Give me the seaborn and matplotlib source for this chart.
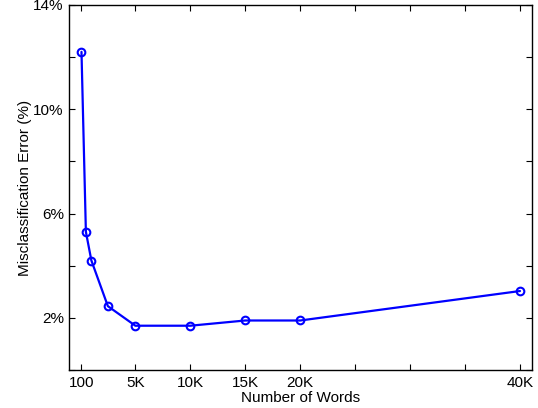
import numpy as np
import pandas as pd
import seaborn as sns
import matplotlib.pyplot as plt
from matplotlib.ticker import FixedLocator, FuncFormatter

# data
words = [100, 500, 1000, 2500, 5000, 10000, 15000, 20000, 40000]
error_pct = [12.2, 5.3, 4.2, 2.45, 1.7, 1.7, 1.9, 1.9, 3.03]

x_ticks = [100, 5000, 10000, 15000, 20000, 25000, 30000, 35000, 40000]
x_labels = {100: "100", 5000: "5K", 10000: "10K", 15000: "15K", 20000: "20K", 40000: "40K"}
y_ticks = [0, 2, 4, 6, 8, 10, 12, 14]
y_labels = {2: "2%", 6: "6%", 10: "10%", 14: "14%"}

df = pd.DataFrame({"words": words, "error": error_pct})

sns.set_theme(style="white")
plt.rcParams['font.family'] = ['Liberation Sans', 'DejaVu Sans']

fig = plt.figure(figsize=(5.38, 4.08), dpi=100)
ax = fig.add_axes([0.129, 0.093, 0.860, 0.895])

sns.lineplot(data=df, x="words", y="error", ax=ax, color="#0000ff", linewidth=1.6,
             marker="o", markersize=5.5, markerfacecolor="none",
             markeredgecolor="#0000ff", markeredgewidth=1.5)

ax.set_xlim(-1000, 41100)
ax.set_ylim(0, 14)
ax.xaxis.set_major_locator(FixedLocator(x_ticks))
ax.yaxis.set_major_locator(FixedLocator(y_ticks))
ax.xaxis.set_major_formatter(FuncFormatter(lambda v, p: x_labels.get(int(round(v)), "")))
ax.yaxis.set_major_formatter(FuncFormatter(lambda v, p: y_labels.get(int(round(v)), "")))

ax.tick_params(direction="in", length=4, width=0.8, colors="black", labelsize=11,
               top=True, right=True, bottom=True, left=True, pad=4)
for s in ax.spines.values():
    s.set_color("black")
    s.set_linewidth(1.0)

ax.set_xlabel("Number of Words", fontsize=11, labelpad=1, color="black")
ax.set_ylabel("Misclassification Error (%)", fontsize=11, labelpad=1, color="black")

fig.savefig("out.png", dpi=100, facecolor="white")
